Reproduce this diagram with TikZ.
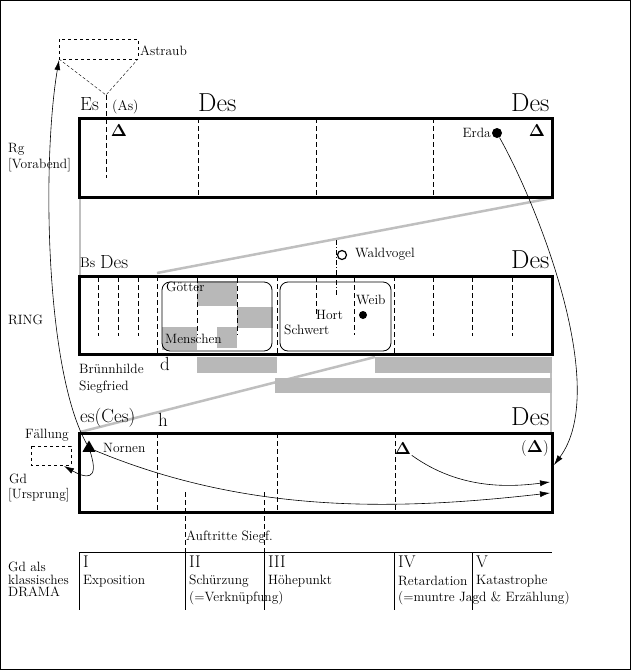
\documentclass[tikz,border=0pt]{standalone}
\usepackage{amsmath}
\usepackage{amssymb}
\usepackage{xcolor}
\usepackage{tikz}
\usetikzlibrary{shapes.geometric, arrows.meta}

\begin{document}
\begin{tikzpicture}[x=1pt, y=-1pt,
	txt/.style = {anchor=west, inner sep=0, font=\fontsize{13.5}{15}\selectfont},
	midtxt/.style = {anchor=base west, inner sep=0, font=\fontsize{19}{21}\selectfont},
	bigtxt/.style = {anchor=base west, inner sep=0, font=\fontsize{26}{28}\selectfont},
	numtxt/.style = {anchor=west, inner sep=0, font=\fontsize{17}{19}\selectfont},
	bar/.style = {line width=3pt},
	sec/.style = {dash pattern=on 5pt off 3pt, line width=0.8pt},
	grayfill/.style = {fill=black!28},
	band/.style = {draw=black!25, line width=2.5pt},
	otri/.style = {inner sep=0.5pt, font=\fontsize{17}{19}\selectfont},
	ftri/.style = {regular polygon, regular polygon sides=3, fill, inner sep=0, minimum size=15pt},
	blob/.style = {circle, fill, inner sep=0, minimum size=10pt},
	arr/.style = {line width=0.6pt, -{Latex[length=10pt, width=6pt]}}]

		\useasboundingbox (0,0) rectangle (631,670);
		\draw [line width=1pt] (0.5,0.5) rectangle (630.5,669.5);

	% grey areas
		\draw [band] (157,273) -- (552,198);
		\draw [band, line width=2pt] (80,198) -- (80,276);
		\draw [band] (80,432) -- (375,357);
		\draw [band, line width=2pt] (551,357) -- (551,433);
		\fill [grayfill] (197,357) rectangle (277,373);
		\fill [grayfill] (375,357) rectangle (552,373);
		\fill [grayfill] (275,378) rectangle (552,393);
		\fill [grayfill] (197,281) rectangle (237,306);
		\fill [grayfill] (237,307) rectangle (273,328);
		\fill [grayfill] (162,327) rectangle (197,350);
		\fill [grayfill] (217,327) rectangle (237,348);

	% the three bars
		\draw [bar] (79,118) rectangle (552,197);
		\draw [bar] (79,276) rectangle (552,354);
		\draw [bar] (79,433) rectangle (552,512);

		\foreach \x in {198,316,433}
			\draw [sec] (\x,118) -- (\x,197);
		\foreach \x in {157,277,394}
			\draw [sec] (\x,276) -- (\x,354);
		\foreach \x in {98,118,138,433,472,512}
			\draw [sec] (\x,277) -- (\x,336);
		\foreach \x in {197,237}
			\draw [sec] (\x,278) -- (\x,335);
		\draw [sec] (316,277) -- (316,315);
		\draw [sec] (354,277) -- (354,335);
		\foreach \x in {157,277,395}
			\draw [sec] (\x,433) -- (\x,512);
		\foreach \x in {185,264}
			\draw [sec] (\x,492) -- (\x,552);

		\draw [rounded corners=8pt, line width=0.8pt] (162,282) rectangle (272,351);
		\draw [rounded corners=8pt, line width=0.8pt] (280,282) rectangle (391,351);

	% Astraub
		\draw [dashed] (59,39) rectangle (138,59);
		\draw [densely dashed] (59,59) -- (106,95) -- (138,59);
		\draw [sec] (106,95) -- (106,178);
		\coordinate (astraub) at (59,60);
		\node [txt] (astr) at (140,51) {Astraub};

	% Rg
		\node [midtxt] (es) at (80,110) {Es};
		\node [midtxt, font=\fontsize{14}{16}\selectfont] (as) at (112,110) {(As)};
		\node [bigtxt] (des1) at (198,111) {Des};
		\node [bigtxt] (des2) at (511,111) {Des};
		\node [txt] (rg) at (8,149) {Rg};
		\node [txt] (vorabend) at (8,165) {[Vorabend]};
		\node [otri] (rgtri1) at (119,131) {$\mathbf{\Delta}$};
		\node [otri] (rgtri2) at (537,131) {$\mathbf{\Delta}$};
		\node [blob] (erda) at (497,133) {};
		\node [txt, anchor=east] (erdatxt) at (491,133) {Erda};

	% RING
		\node [midtxt, font=\fontsize{14}{16}\selectfont] (bs) at (80,267) {Bs};
		\node [midtxt] (des3) at (100,268) {Des};
		\node [bigtxt] (des4) at (511,268) {Des};
		\node [circle, draw, line width=1.2pt, inner sep=0, minimum size=9pt] (vogel) at (342,255) {};
		\node [txt] (vogeltxt) at (355,254) {Waldvogel};
		\draw [dash pattern=on 5pt off 2pt on 1pt off 2pt, line width=0.8pt] (336,240) -- (336,296);
		\node [txt] (ring) at (8,320) {RING};
		\node [txt] (goetter) at (166,287) {G\"otter};
		\node [txt] (menschen) at (165,339) {Menschen};
		\node [txt] (hort) at (316,315) {Hort};
		\node [txt] (schwert) at (284,330) {Schwert};
		\node [txt] (weib) at (356,300) {Weib};
		\node [blob, minimum size=8pt] (weibdot) at (363,315) {};

		\node [txt] (bruenn) at (79,369) {Br\"unnhilde};
		\node [txt] (siegfried) at (79,387) {Siegfried};
		\node [midtxt] (d) at (160,370) {d};

	% Gd
		\node [midtxt] (esces) at (80,422) {es(Ces)};
		\node [midtxt] (h) at (158,426) {h};
		\node [bigtxt] (des5) at (511,425) {Des};
		\node [txt] (faellung) at (25,435) {F\"allung};
		\draw [dashed] (31,446) rectangle (71,465);
		\coordinate (fall) at (64,466);
		\node [txt] (gd) at (9,479) {Gd};
		\node [txt] (ursprung) at (8,495) {[Ursprung]};
		\node [ftri] (nornen) at (89,448) {};
		\node [txt] (nornentxt) at (103,448) {Nornen};
		\node [otri] (gdtri) at (403,449) {$\mathbf{\Delta}$};
		\node [txt, font=\fontsize{16}{18}\selectfont] (gdtri2) at (521,449) {($\mathbf{\Delta}$)};
		\coordinate (gdc) at (554,465);
		\coordinate (gda) at (550,482);
		\coordinate (gdb) at (550,493);

		\draw [arr] (erda) .. controls (540,210) and (610,390) .. (gdc);
		\draw [arr] (gdtri) .. controls (460,490) and (510,487) .. (gda);
		\draw [arr] (nornen) .. controls (250,515) and (400,510) .. (gdb);
		\draw [arr] (nornen) .. controls (45,370) and (42,160) .. (astraub);
		\draw [arr] (nornen) .. controls (100,482) and (85,478) .. (fall);

	% DRAMA
		\node [txt] (auftritte) at (186,537) {Auftritte Siegf.};
		\node [txt] (gdals) at (8,567) {Gd als};
		\node [txt] (klass) at (8,580) {klassisches};
		\node [txt] (drama) at (8,592) {DRAMA};
		\draw (79,552) -- (552,552);
		\foreach \x in {79,185,264,394,472}
			\draw (\x,552) -- (\x,610);
		\node [numtxt] (i) at (83,562) {I};
		\node [numtxt] (ii) at (189,562) {II};
		\node [numtxt] (iii) at (268,562) {III};
		\node [numtxt] (iv) at (398,562) {IV};
		\node [numtxt] (v) at (476,562) {V};
		\node [txt] (expo) at (83,581) {Exposition};
		\node [txt] (schuerz) at (189,581) {Sch\"urzung};
		\node [txt] (verkn) at (189,598) {(=Verkn\"upfung)};
		\node [txt] (hoehe) at (268,581) {H\"ohepunkt};
		\node [txt] (retard) at (398,581) {Retardation};
		\node [txt] (muntre) at (398,598) {(=muntre Jagd \& Erz\"ahlung)};
		\node [txt] (kata) at (476,581) {Katastrophe};

\end{tikzpicture}
\end{document}
